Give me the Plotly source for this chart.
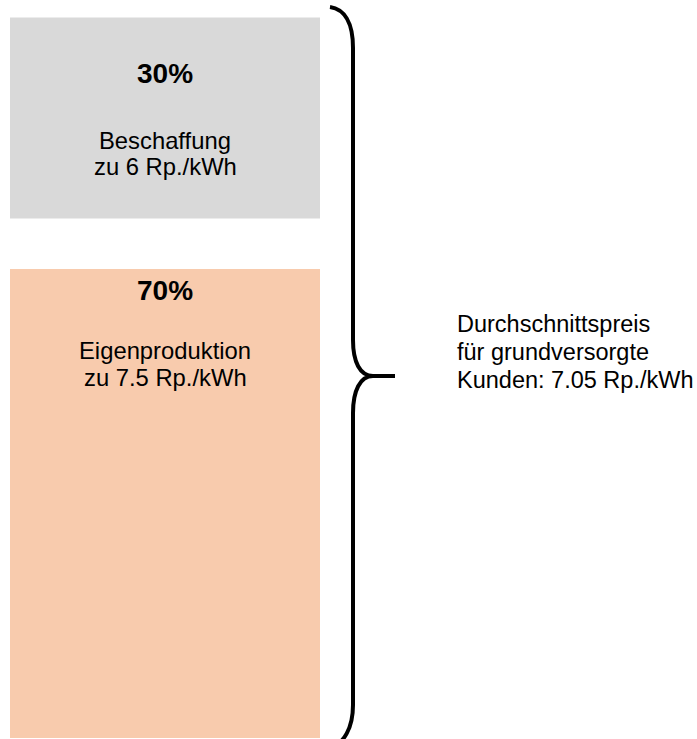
import plotly.graph_objects as go

# ---- data ----
categories = ["Eigenproduktion", "Beschaffung"]
shares = [70, 30]                 # percent
prices = ["7.5", "6"]             # Rp./kWh
bar_colors = ["#F8CBAD", "#D9D9D9"]
avg_price = "7.05"

W, H = 697, 739
GAP = 7.55  # vertical gap between blocks (in share units)

fig = go.Figure()

bases = [0, shares[0] + GAP]
for cat, s, b, c in zip(categories, shares, bases, bar_colors):
    fig.add_trace(go.Bar(
        x=[0], y=[s], base=[b], width=[1],
        marker=dict(color=c, line=dict(width=0)),
        name=cat, hoverinfo="skip", showlegend=False,
    ))

def px(x):
    return x / W

def py(y):
    return 1 - y / H

annotations = []

def label(text, x, baseline, size, bold=False, anchor="center"):
    annotations.append(dict(
        text=f"<b>{text}</b>" if bold else text,
        x=px(x), y=py(baseline - 0.36 * size), xref="paper", yref="paper",
        xanchor=anchor, yanchor="middle", showarrow=False,
        font=dict(family="Liberation Sans, Arial", size=size, color="#000000"),
    ))

cx = 165
FS = 23.8
# Beschaffung block
label(f"{shares[1]}%", cx, 83.5, 28, bold=True)
label(categories[1], cx, 149, FS)
label(f"zu {prices[1]} Rp./kWh", cx, 175.5, FS)
# Eigenproduktion block
label(f"{shares[0]}%", cx, 300.5, 28, bold=True)
label(categories[0], cx, 359.5, FS)
label(f"zu {prices[0]} Rp./kWh", cx, 386, FS)
# right text
label("Durchschnittspreis", 455, 332, 23.5, anchor="left")
label("für grundversorgte", 455, 360, 23.5, anchor="left")
label(f"Kunden: {avg_price} Rp./kWh", 455, 388, 23.5, anchor="left")

# curly brace (decoration) in pixel coords -> paper
pts = [
    ("M", [(330, 7)]),
    ("C", [(344, 9), (353, 22), (353, 48)]),
    ("L", [(353, 340)]),
    ("C", [(353, 362), (360, 376), (373, 376)]),
    ("L", [(395, 376)]),
    ("M", [(373, 376)]),
    ("C", [(360, 376), (353, 391), (353, 413)]),
    ("L", [(353, 705)]),
    ("C", [(353, 728), (344, 743), (330, 749)]),
]
path = ""
for cmd, ps in pts:
    path += cmd + " " + " ".join(f"{px(x):.5f},{py(y):.5f}" for x, y in ps) + " "

fig.update_layout(
    width=W, height=H,
    margin=dict(l=0, r=0, t=0, b=0),
    paper_bgcolor="white", plot_bgcolor="white",
    barmode="overlay",
    xaxis=dict(range=[-165 / 310, (W - 165) / 310], visible=False, fixedrange=True),
    yaxis=dict(range=[-0.15, 110.15], visible=False, fixedrange=True),
    annotations=annotations,
    shapes=[dict(type="path", path=path.strip(), xref="paper", yref="paper",
                 line=dict(color="black", width=4), layer="above")],
)

fig.write_html("out.html")
